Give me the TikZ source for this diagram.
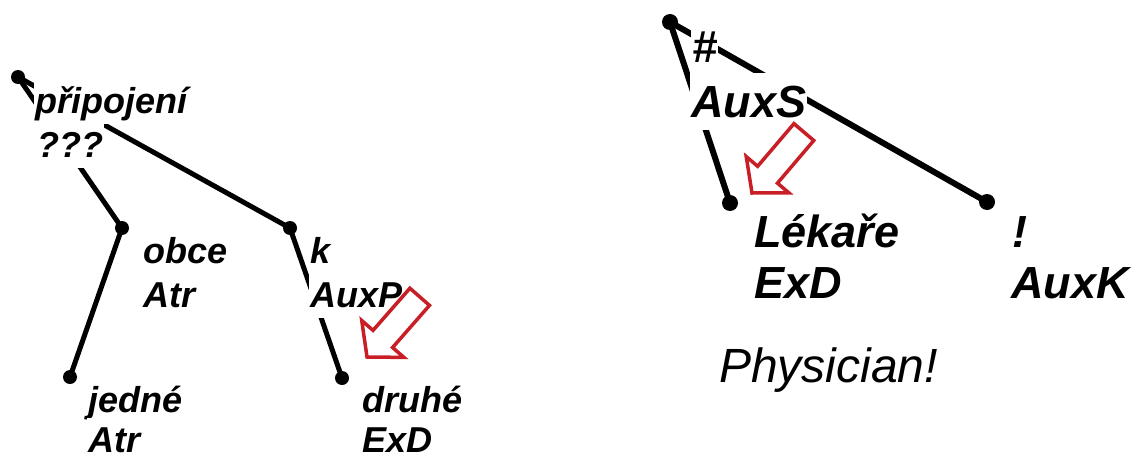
\documentclass[tikz,border=0pt]{standalone}
\usepackage{fontspec}
\setmainfont{Liberation Sans}
\definecolor{arrowred}{RGB}{200,30,38}
\begin{document}
\begin{tikzpicture}[x=1pt,y=-1pt,
  edgeL/.style={line width=5pt},
  edgeR/.style={line width=6pt},
  dotL/.style={circle,fill=black,inner sep=0pt,minimum size=14pt},
  dotR/.style={circle,fill=black,inner sep=0pt,minimum size=16pt},
  labL/.style={anchor=base west,fill=white,inner xsep=1pt,inner ysep=3pt,
    text height=33pt,text depth=8pt,
    font=\fontsize{36}{40}\selectfont\bfseries\itshape},
  labR/.style={anchor=base west,fill=white,inner xsep=1pt,inner ysep=3pt,
    text height=41pt,text depth=10pt,
    font=\fontsize{45}{50}\selectfont\bfseries\itshape},
  lastline/.style={text depth=0pt,inner ysep=1pt},
  hollow/.style={draw=arrowred,line width=3.5pt,line join=miter}
]
\useasboundingbox (0,0) rectangle (1134,460);

% ---------- left tree ----------
\node[dotL] (rootL) at (18,77) {};
\node[dotL] (obce) at (122,228) {};
\node[dotL] (k) at (290,228) {};
\node[dotL] (jedne) at (70,377) {};
\node[dotL] (druhe) at (342,378) {};

\draw[edgeL] (rootL.center) -- (obce.center);
\draw[edgeL] (rootL.center) -- (k.center);
\draw[edgeL] (obce.center) -- (jedne.center);
\draw[edgeL] (k.center) -- (druhe.center);

\node[labL] (l1a) at (34,113) {připojení};
\node[labL] (l1b) at (36,157) {???};
\node[labL] (l2a) at (142,263) {obce};
\node[labL] (l2b) at (142,307) {Atr};
\node[labL] (l3a) at (309,263) {k};
\node[labL] (l3b) at (309,307) {AuxP};
\node[labL] (l4a) at (87,412) {jedné};
\node[labL,lastline] (l4b) at (87,452) {Atr};
\node[labL] (l5a) at (361,412) {druhé};
\node[labL,lastline] (l5b) at (361,452) {ExD};

% ---------- right tree ----------
\node[dotR] (rootR) at (670,22) {};
\node[dotR] (lek) at (730,203) {};
\node[dotR] (excl) at (987,202) {};

\draw[edgeR] (rootR.center) -- (lek.center);
\draw[edgeR] (rootR.center) -- (excl.center);

\node[labR] (r1a) at (691,63) {\#};
\node[labR] (r1b) at (690,117) {AuxS};
\node[labR] (r2a) at (753,247) {Lékaře};
\node[labR] (r2b) at (753,298) {ExD};
\node[labR] (r3a) at (1011,247) {!};
\node[labR] (r3b) at (1010,298) {AuxK};

\node[anchor=base west,inner sep=0pt,font=\fontsize{48}{52}\selectfont\itshape] (phys) at (719,382) {Physician!};

% ---------- hollow red arrows ----------
\begin{scope}[shift={(367,357)},rotate=228.8]
  \draw[hollow] (0,0) -- (-24,28) -- (-24,13) -- (-80,13) -- (-80,-13) -- (-24,-13) -- (-24,-28) -- cycle;
\end{scope}
\begin{scope}[shift={(752,193)},rotate=229.6]
  \draw[hollow] (0,0) -- (-24,28) -- (-24,13) -- (-80,13) -- (-80,-13) -- (-24,-13) -- (-24,-28) -- cycle;
\end{scope}
\end{tikzpicture}
\end{document}
